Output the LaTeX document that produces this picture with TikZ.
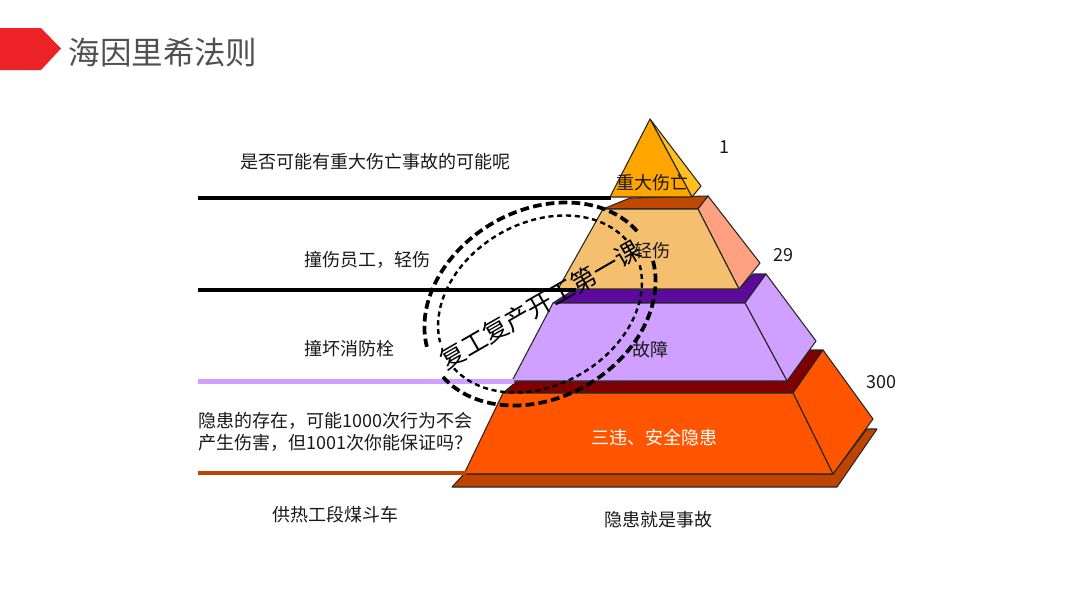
\documentclass[tikz,border=0pt]{standalone}
\usepackage{fontspec}
\setmainfont{Noto Sans CJK SC}
\definecolor{tagred}{HTML}{EC2227}
\definecolor{titlegray}{HTML}{505050}
\definecolor{topfront}{HTML}{FFA500}
\definecolor{topside}{HTML}{FFC020}
\definecolor{tanfront}{HTML}{F4C070}
\definecolor{tanside}{HTML}{FFA080}
\definecolor{brownband}{HTML}{C04800}
\definecolor{purpleband}{HTML}{5C0A9C}
\definecolor{lilac}{HTML}{CFA0FF}
\definecolor{darkredband}{HTML}{800000}
\definecolor{orangefront}{HTML}{FF5500}
\definecolor{baseband}{HTML}{BE4400}
\tikzset{
  face/.style={draw=black!85,line width=0.8pt,line join=round},
  lbl/.style={font=\fontsize{13.5}{16.5}\selectfont,text=black!90,inner sep=0pt,yshift=-0.75pt},
  levelline/.style={line width=3pt},
  ringouter/.style={draw=black,line width=2.8pt,dash pattern=on 6.5pt off 3.2pt},
  ringinner/.style={draw=black,line width=1.8pt,dash pattern=on 3.8pt off 2.8pt}
}
\begin{document}
\begin{tikzpicture}[x=0.75pt,y=-0.75pt]
\useasboundingbox (0,0) rectangle (1080,608);
% title
\fill[tagred] (0,28) -- (41,28) -- (61,48.5) -- (41,70) -- (0,70) -- cycle;
\node[inner sep=0pt,text=titlegray,font=\fontsize{23.6}{28}\selectfont] (title) at (163,52.5) {海因里希法则};
% level-line anchors
\coordinate (l1a) at (198,197.5); \coordinate (l1b) at (611,197.5);
\coordinate (l2a) at (198,290);   \coordinate (l2b) at (576,290);
\coordinate (l3a) at (198,381.5); \coordinate (l3b) at (514,381.5);
\coordinate (l4a) at (198,472.5); \coordinate (l4b) at (466,472.5);
% base band
\path[face,fill=baseband] (452,487) -- (464,474) -- (833,474) -- (867,429) -- (877,429) -- (837,487) -- cycle;
% orange tier
\path[face,fill=darkredband] (503,393) -- (517,381) -- (787,381) -- (810,350) -- (823,350) -- (793,393) -- cycle;
\path[face,fill=orangefront] (793,393) -- (823,350) -- (873,419) -- (833,474) -- cycle;
\path[face,fill=orangefront] (503,393) -- (793,393) -- (833,474) -- (464,474) -- cycle;
% purple tier
\path[face,fill=purpleband] (553,303) -- (575,289) -- (739,289) -- (753,274) -- (766,274) -- (745,303) -- cycle;
\path[face,fill=lilac] (745,303) -- (766,274) -- (816,341) -- (787,381) -- cycle;
\path[face,fill=lilac] (553,303) -- (745,303) -- (787,381) -- (512,381) -- cycle;
% tan tier
\path[face,fill=brownband] (603,209) -- (630,198) -- (708,196) -- (698,209) -- cycle;
\path[face,fill=tanside] (698,209) -- (708,196) -- (760,263) -- (739,289) -- cycle;
\path[face,fill=tanfront] (603,209) -- (698,209) -- (739,289) -- (558,289) -- cycle;
% top
\path[face,fill=topside] (650,119) -- (701,186) -- (692,197) -- cycle;
\path[face,fill=topfront] (650,119) -- (692,197) -- (610,197) -- cycle;
% level lines
\draw[levelline,black] (l1a) -- (l1b);
\draw[levelline,black] (l2a) -- (l2b);
\draw[levelline,draw=lilac,line width=3.6pt] (l3a) -- (l3b);
\draw[levelline,draw=baseband] (l4a) -- (l4b);
% labels
\node[lbl] (q1) at (375,161) {是否可能有重大伤亡事故的可能呢};
\node[lbl] (q2) at (367,259) {撞伤员工，轻伤};
\node[lbl] (q3) at (349,348) {撞坏消防栓};
\node[lbl,align=left,anchor=west] (q4) at (198,431) {隐患的存在，可能1000次行为不会\\产生伤害，但1001次你能保证吗？};
\node[lbl] (q5) at (335,514) {供热工段煤斗车};
\node[lbl] (t1) at (652.5,182) {重大伤亡};
\node[lbl] (t2) at (652,250) {轻伤};
\node[lbl] (t3) at (650,349) {故障};
\node[lbl,text=white] (t4) at (654,437) {三违、安全隐患};
\node[lbl] (t5) at (658.5,519) {隐患就是事故};
\node[lbl] (n1) at (724,146) {1};
\node[lbl] (n2) at (783,254) {29};
\node[lbl] (n3) at (881,381) {300};
% stamp
\begin{scope}[shift={(540,304)},rotate=30,y=0.75pt]
  \draw[ringouter] plot[domain=9:168,samples=80,smooth] ({122*cos(\x)},{93.7*sin(\x)});
  \draw[ringouter] plot[domain=189:349,samples=80,smooth] ({122*cos(\x)},{93.7*sin(\x)});
  \draw[ringinner] plot[domain=9:168,samples=80,smooth] ({108*cos(\x)},{81*sin(\x)});
  \draw[ringinner] plot[domain=189:349,samples=80,smooth] ({108*cos(\x)},{81*sin(\x)});
\end{scope}
\node[inner sep=0pt,rotate=30,text=black,font=\fontsize{19}{23}\selectfont] (stamp) at (540,305) {复工复产开工第一课};
\end{tikzpicture}
\end{document}
